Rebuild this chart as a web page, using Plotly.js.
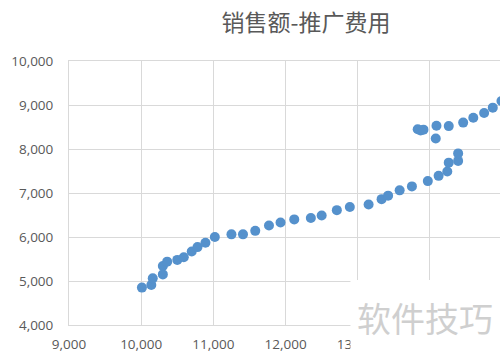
<!DOCTYPE html>
<html>
<head>
<meta charset="utf-8">
<script src="https://cdn.plot.ly/plotly-3.0.1.min.js"></script>
<style>html,body{margin:0;padding:0;background:#fff;}#chart{width:500px;height:354px;}</style>
</head>
<body>
<div id="chart"></div>
<script>
var titleText = "销售额-推广费用";
var watermarkText = "软件技巧";
var salesX = [10010, 10140, 10160, 10300, 10300, 10360, 10500, 10590, 10700, 10780, 10890, 11020,
  11250, 11410, 11580, 11770, 11930, 12120, 12350, 12500, 12710, 12890, 13150, 13330, 13420,
  13580, 13750, 13970, 14120, 14240, 14260, 14390, 14390,
  13830, 13870, 13910, 14080, 14090, 14260, 14460, 14600, 14750, 14870, 14990];
var promoY = [4850, 4910, 5060, 5150, 5340, 5440, 5480, 5540, 5670, 5770, 5870, 6000,
  6060, 6060, 6140, 6260, 6330, 6400, 6430, 6490, 6610, 6680, 6740, 6860, 6940,
  7060, 7150, 7270, 7390, 7490, 7690, 7730, 7900,
  8450, 8420, 8440, 8240, 8530, 8520, 8600, 8710, 8820, 8940, 9090];
var xTicks = [9000, 10000, 11000, 12000, 13000, 14000];
var xTickLabels = ['9,000', '10,000', '11,000', '12,000', '13,000', ''];
var yTicks = [4000, 5000, 6000, 7000, 8000, 9000, 10000];

var grid = '#d9d9d9';
var tickFont = {family: 'Open Sans, Noto Sans, sans-serif', size: 13.5, color: '#595959'};

var trace = {
  type: 'scatter', mode: 'markers',
  x: salesX, y: promoY,
  marker: {size: 10, color: '#5591cc', line: {width: 0}},
  hoverinfo: 'skip'
};

var layout = {
  width: 500, height: 354,
  margin: {l: 69, r: 0, t: 61, b: 29},
  paper_bgcolor: '#fff', plot_bgcolor: '#fff',
  showlegend: false,
  title: {
    text: titleText,
    font: {family: 'Noto Sans CJK SC', size: 23, color: '#595959'},
    xref: 'container', x: 0.612, xanchor: 'center',
    yref: 'container', y: 0.935, yanchor: 'middle'
  },
  xaxis: {
    range: [9000, 14970], tickvals: xTicks, ticktext: xTickLabels,
    showgrid: true, gridcolor: grid, gridwidth: 1, zeroline: false,
    showline: true, linecolor: grid, linewidth: 1, mirror: true,
    ticks: 'outside', ticklen: 7, tickcolor: 'rgba(0,0,0,0)',
    tickfont: tickFont, fixedrange: true
  },
  yaxis: {
    range: [4000, 10000], tickvals: yTicks, tickformat: ',d',
    showgrid: true, gridcolor: grid, gridwidth: 1, zeroline: false,
    showline: true, linecolor: grid, linewidth: 1,
    ticks: 'outside', ticklen: 12, tickcolor: 'rgba(0,0,0,0)',
    tickfont: tickFont, fixedrange: true
  },
  shapes: [{
    type: 'rect', xref: 'paper', yref: 'paper',
    x0: 0.653, x1: 1.05, y0: -0.2, y1: 0.17,
    fillcolor: '#ffffff', line: {width: 0}, layer: 'above'
  }],
  annotations: [{
    text: watermarkText, xref: 'paper', yref: 'paper',
    x: 0.826, y: 0.03, xanchor: 'center', yanchor: 'middle',
    showarrow: false,
    font: {family: 'Noto Sans CJK SC', size: 34, color: '#cfcfcf'}
  }]
};

Plotly.newPlot('chart', [trace], layout, {displayModeBar: false, staticPlot: true});
</script>
</body>
</html>
